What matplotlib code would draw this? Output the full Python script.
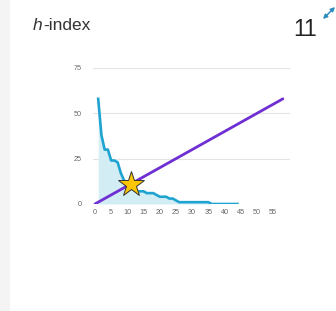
import matplotlib
matplotlib.use("Agg")
import matplotlib.pyplot as plt
from matplotlib.patches import Rectangle
from matplotlib.transforms import offset_copy

plt.rcParams['font.family'] = ['Liberation Sans', 'DejaVu Sans']

# ranked citation counts (paper rank 1..44)
citations = [58, 38, 30, 30, 24, 24, 23, 17, 13, 11, 11, 8, 7, 7, 7, 6, 6, 6, 5, 4,
             4, 4, 3, 3, 2, 1, 1, 1, 1, 1, 1, 1, 1, 1, 1, 0, 0, 0, 0, 0, 0, 0, 0, 0]
ranks = list(range(1, len(citations) + 1))
h_index = 11
diag_max = 58
x_ticks = [0, 5, 10, 15, 20, 25, 30, 35, 40, 45, 50, 55]
y_ticks = [0, 25, 50, 75]

W, H = 336, 311
fig = plt.figure(figsize=(W / 100, H / 100), dpi=100)
fig.patch.set_facecolor('white')
fig.patches.append(Rectangle((0, 0), 10 / W, 1, transform=fig.transFigure,
                             facecolor='#f4f4f4', edgecolor='none', zorder=0))

ax = fig.add_axes([93 / W, (H - 204) / H, (290 - 93) / W, (204 - 68) / H])
ax.set_xlim(-0.6, 60.2)
ax.set_ylim(0, 75)

ax.fill_between(ranks, citations, 0, color='#d3edf5', zorder=1, linewidth=0)
ax.plot(ranks, citations, color='#1fa3d1', linewidth=1.9, zorder=3,
        solid_joinstyle='round')
ax.plot([0, diag_max], [0, diag_max], color='#6f2fd3', linewidth=2, zorder=4,
        solid_capstyle='round')
ax.plot([h_index], [h_index], marker='*', markersize=19, markerfacecolor='#fbc600',
        markeredgecolor='#333333', markeredgewidth=0.7, zorder=5, linestyle='none')

ax.set_xticks(x_ticks)
ax.set_yticks(y_ticks)
ax.tick_params(axis='both', length=0, labelsize=5.2, labelcolor='#666666')
ax.tick_params(axis='y', pad=8)
ax.tick_params(axis='x', pad=3.5)
ax.grid(axis='y', color='#e3e3e3', linewidth=0.8)
ax.set_axisbelow(True)
for s in ax.spines.values():
    s.set_visible(False)

th = fig.text(33 / W, 1 - 26 / H, 'h', fontsize=12.5, fontstyle='italic',
              color='#333333', va='center', ha='left')
fig.canvas.draw()
ext = th.get_window_extent(renderer=fig.canvas.get_renderer())
fig.text(ext.x1 / (W) + 0.3 / W, 1 - 26 / H, '-index', fontsize=12.5, color='#333333',
         va='center', ha='left')
fig.text(317 / W, 1 - 30 / H, str(h_index), fontsize=16.5, color='#222222',
         va='center', ha='right')

ax.annotate('', xy=(335 / W, 1 - 7 / H), xytext=(323 / W, 1 - 19 / H),
            xycoords='figure fraction', textcoords='figure fraction',
            arrowprops=dict(arrowstyle='<|-|>', color='#2b8cbf', lw=1.1,
                            mutation_scale=6, shrinkA=0, shrinkB=0))

fig.savefig('out.png', dpi=100, facecolor='white')
